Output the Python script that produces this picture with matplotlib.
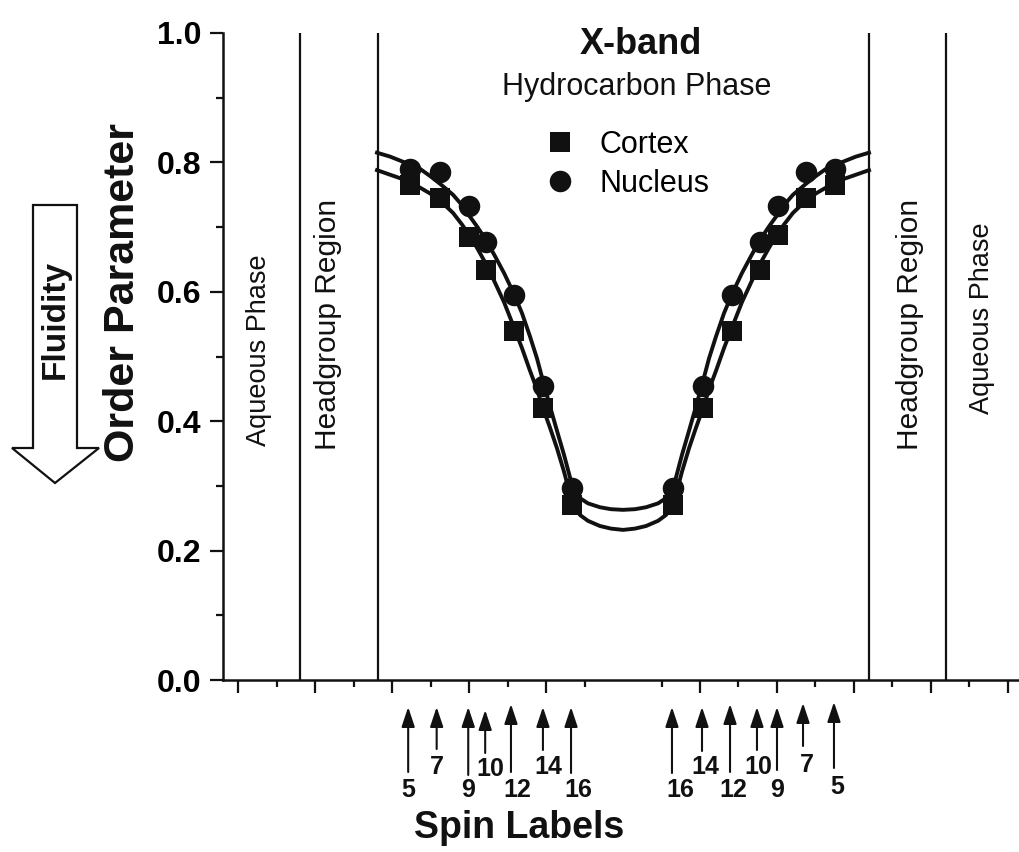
import matplotlib
matplotlib.use("Agg")
import matplotlib.pyplot as plt
from matplotlib.patches import Polygon

plt.rcParams['font.family'] = ['Liberation Sans', 'DejaVu Sans']

W, H = 1020, 852
INK = '#111111'

# spin label positions along the bilayer (tick units) and order parameters
spin_names = ['5', '7', '9', '10', '12', '14', '16', '16', '14', '12', '10', '9', '7', '5']
spin_x = [2.23, 2.62, 3.0, 3.22, 3.58, 3.96, 4.34,
          5.65, 6.04, 6.42, 6.78, 7.01, 7.38, 7.75]
cortex = [0.765, 0.745, 0.685, 0.633, 0.540, 0.420, 0.270,
          0.270, 0.420, 0.540, 0.633, 0.688, 0.745, 0.765]
nucleus = [0.790, 0.785, 0.733, 0.677, 0.595, 0.455, 0.297,
           0.297, 0.455, 0.595, 0.677, 0.733, 0.785, 0.790]

# fitted curves
curve_x = [1.805, 1.974, 2.143, 2.364, 2.494, 2.623, 2.792, 2.909, 3.013, 3.104,
           3.221, 3.338, 3.455, 3.571, 3.688, 3.792, 3.883, 3.961, 4.052, 4.143,
           4.234, 4.312, 4.377, 4.442, 4.545, 4.701, 4.844, 5.0,
           5.156, 5.299, 5.455, 5.558, 5.623, 5.688, 5.766, 5.857, 5.948, 6.039,
           6.117, 6.208, 6.312, 6.429, 6.545, 6.662, 6.779, 6.896, 6.987, 7.091,
           7.208, 7.377, 7.506, 7.636, 7.857, 8.026, 8.195]
curve_nucleus = [0.815, 0.809, 0.801, 0.790, 0.779, 0.767, 0.750, 0.734, 0.716, 0.701,
                 0.680, 0.655, 0.629, 0.600, 0.567, 0.531, 0.497, 0.462, 0.423, 0.385,
                 0.348, 0.313, 0.291, 0.281, 0.273, 0.267, 0.264, 0.263,
                 0.264, 0.267, 0.273, 0.281, 0.291, 0.313, 0.348, 0.385, 0.423, 0.462,
                 0.497, 0.531, 0.567, 0.600, 0.629, 0.655, 0.680, 0.701, 0.716, 0.734,
                 0.750, 0.767, 0.779, 0.790, 0.801, 0.809, 0.815]
curve_cortex = [0.788, 0.781, 0.774, 0.761, 0.752, 0.741, 0.722, 0.704, 0.686, 0.668,
                0.643, 0.614, 0.584, 0.549, 0.513, 0.478, 0.449, 0.420, 0.390, 0.358,
                0.322, 0.287, 0.266, 0.255, 0.246, 0.238, 0.234, 0.232,
                0.234, 0.238, 0.246, 0.255, 0.266, 0.287, 0.322, 0.358, 0.390, 0.420,
                0.449, 0.478, 0.513, 0.549, 0.584, 0.614, 0.643, 0.668, 0.686, 0.704,
                0.722, 0.741, 0.752, 0.761, 0.774, 0.781, 0.788]

region_lines = [0.805, 1.82, 8.19, 9.19]

# annotation layout (pixels of the 1020x852 figure)
arrow_x = [2.21, 2.58, 2.99, 3.21, 3.545, 3.96, 4.325,
           5.636, 6.026, 6.39, 6.74, 7.0, 7.338, 7.74]
arrow_top = [707, 707, 707, 710, 704, 707, 707, 707, 707, 704, 707, 707, 703, 702]
arrow_tail = [772, 749, 775, 753, 772, 750, 773, 773, 751, 772, 750, 770, 746, 768]
label_px = [408, 437, 468, 490, 517, 548, 578, 680, 705, 733, 758, 777, 807, 837]
label_py = [790, 767, 790, 769, 790, 767, 790, 790, 767, 790, 767, 790, 765, 787]


def fx(px):
    return px / W


def fy(py):
    return 1 - py / H


fig = plt.figure(figsize=(W / 100, H / 100), dpi=100)
ax = fig.add_axes([fx(223), fy(680), 797 / W, 647 / H])

ax.set_xlim(-0.195, 10.156)
ax.set_ylim(0, 1.0)

for s in ['top', 'right']:
    ax.spines[s].set_visible(False)
for s in ['left', 'bottom']:
    ax.spines[s].set_linewidth(1.8)
    ax.spines[s].set_color(INK)

for xv in region_lines:
    ax.axvline(xv, color=INK, lw=1.6)

ax.plot(curve_x, curve_cortex, color=INK, lw=2.8, solid_joinstyle='round')
ax.plot(curve_x, curve_nucleus, color=INK, lw=2.8, solid_joinstyle='round')

ax.plot(spin_x, cortex, 's', ms=14, color=INK, mew=0, label='Cortex')
ax.plot(spin_x, nucleus, 'o', ms=15.5, color=INK, mew=0, label='Nucleus')

ax.set_xticks([0, 1, 2, 3, 4, 6, 7, 8, 9, 10])
ax.set_xticks([i + 0.5 for i in range(10)], minor=True)
ax.set_xticklabels([])
ax.set_yticks([0, 0.2, 0.4, 0.6, 0.8, 1.0])
ax.set_yticks([0.1, 0.3, 0.5, 0.7, 0.9], minor=True)
ax.set_yticklabels(['0.0', '0.2', '0.4', '0.6', '0.8', '1.0'],
                   fontsize=23, fontweight='bold')
ax.tick_params(which='major', direction='out', length=9.5, width=1.6, color=INK, pad=6)
ax.tick_params(which='minor', direction='out', length=5, width=1.6, color=INK)

leg = ax.legend(loc='upper left', bbox_to_anchor=((548 - 223) / 797, (680 - 130) / 647),
                frameon=False, fontsize=22, handlelength=0.8, handletextpad=0.9,
                labelspacing=0.3, borderpad=0, borderaxespad=0)

ax.text((641 - 223) / 797, (680 - 45) / 647, 'X-band', transform=ax.transAxes,
        ha='center', va='center', fontsize=26, fontweight='bold', color=INK)
ax.text((637 - 223) / 797, (680 - 87) / 647, 'Hydrocarbon Phase', transform=ax.transAxes,
        ha='center', va='center', fontsize=22, color=INK)

region_text = [(259, 350, 'Aqueous Phase', 19.5), (328, 324, 'Headgroup Region', 21.5),
               (910, 324, 'Headgroup Region', 21.5), (982, 318, 'Aqueous Phase', 19.5)]
for px, py, t, fs in region_text:
    fig.text(fx(px), fy(py), t, rotation=90, ha='center', va='center',
             fontsize=fs, color=INK)

xtr = ax.get_xaxis_transform()
for i, name in enumerate(spin_names):
    ax.annotate('', xy=(arrow_x[i], (680 - arrow_top[i]) / 647),
                xytext=(arrow_x[i], (680 - arrow_tail[i]) / 647),
                xycoords=xtr, textcoords=xtr, annotation_clip=False,
                arrowprops=dict(arrowstyle='-|>,head_length=0.6,head_width=0.2',
                                mutation_scale=20, lw=1.5, color=INK,
                                shrinkA=0, shrinkB=0))
    fig.text(fx(label_px[i]), fy(label_py[i]), name, ha='center', va='center',
             fontsize=18, fontweight='bold', color=INK)

fig.text(fx(519), fy(828), 'Spin Labels', ha='center', va='center',
         fontsize=27, fontweight='bold', color=INK)
fig.text(fx(123), fy(292), 'Order Parameter', rotation=90, ha='center', va='center',
         fontsize=31, fontweight='bold', color=INK)

# hollow "Fluidity" arrow
arrow_pts = [(33, 205), (77, 205), (77, 448), (99, 448), (55, 483),
             (12, 448), (33, 448)]
fig.add_artist(Polygon([(fx(a), fy(b)) for a, b in arrow_pts], closed=True,
                       facecolor='white', edgecolor=INK, lw=1.6,
                       transform=fig.transFigure))
fig.text(fx(55), fy(319), 'Fluidity', rotation=90, ha='center', va='center',
         fontsize=24, fontweight='bold', color=INK)

fig.savefig('out.png', dpi=100)
